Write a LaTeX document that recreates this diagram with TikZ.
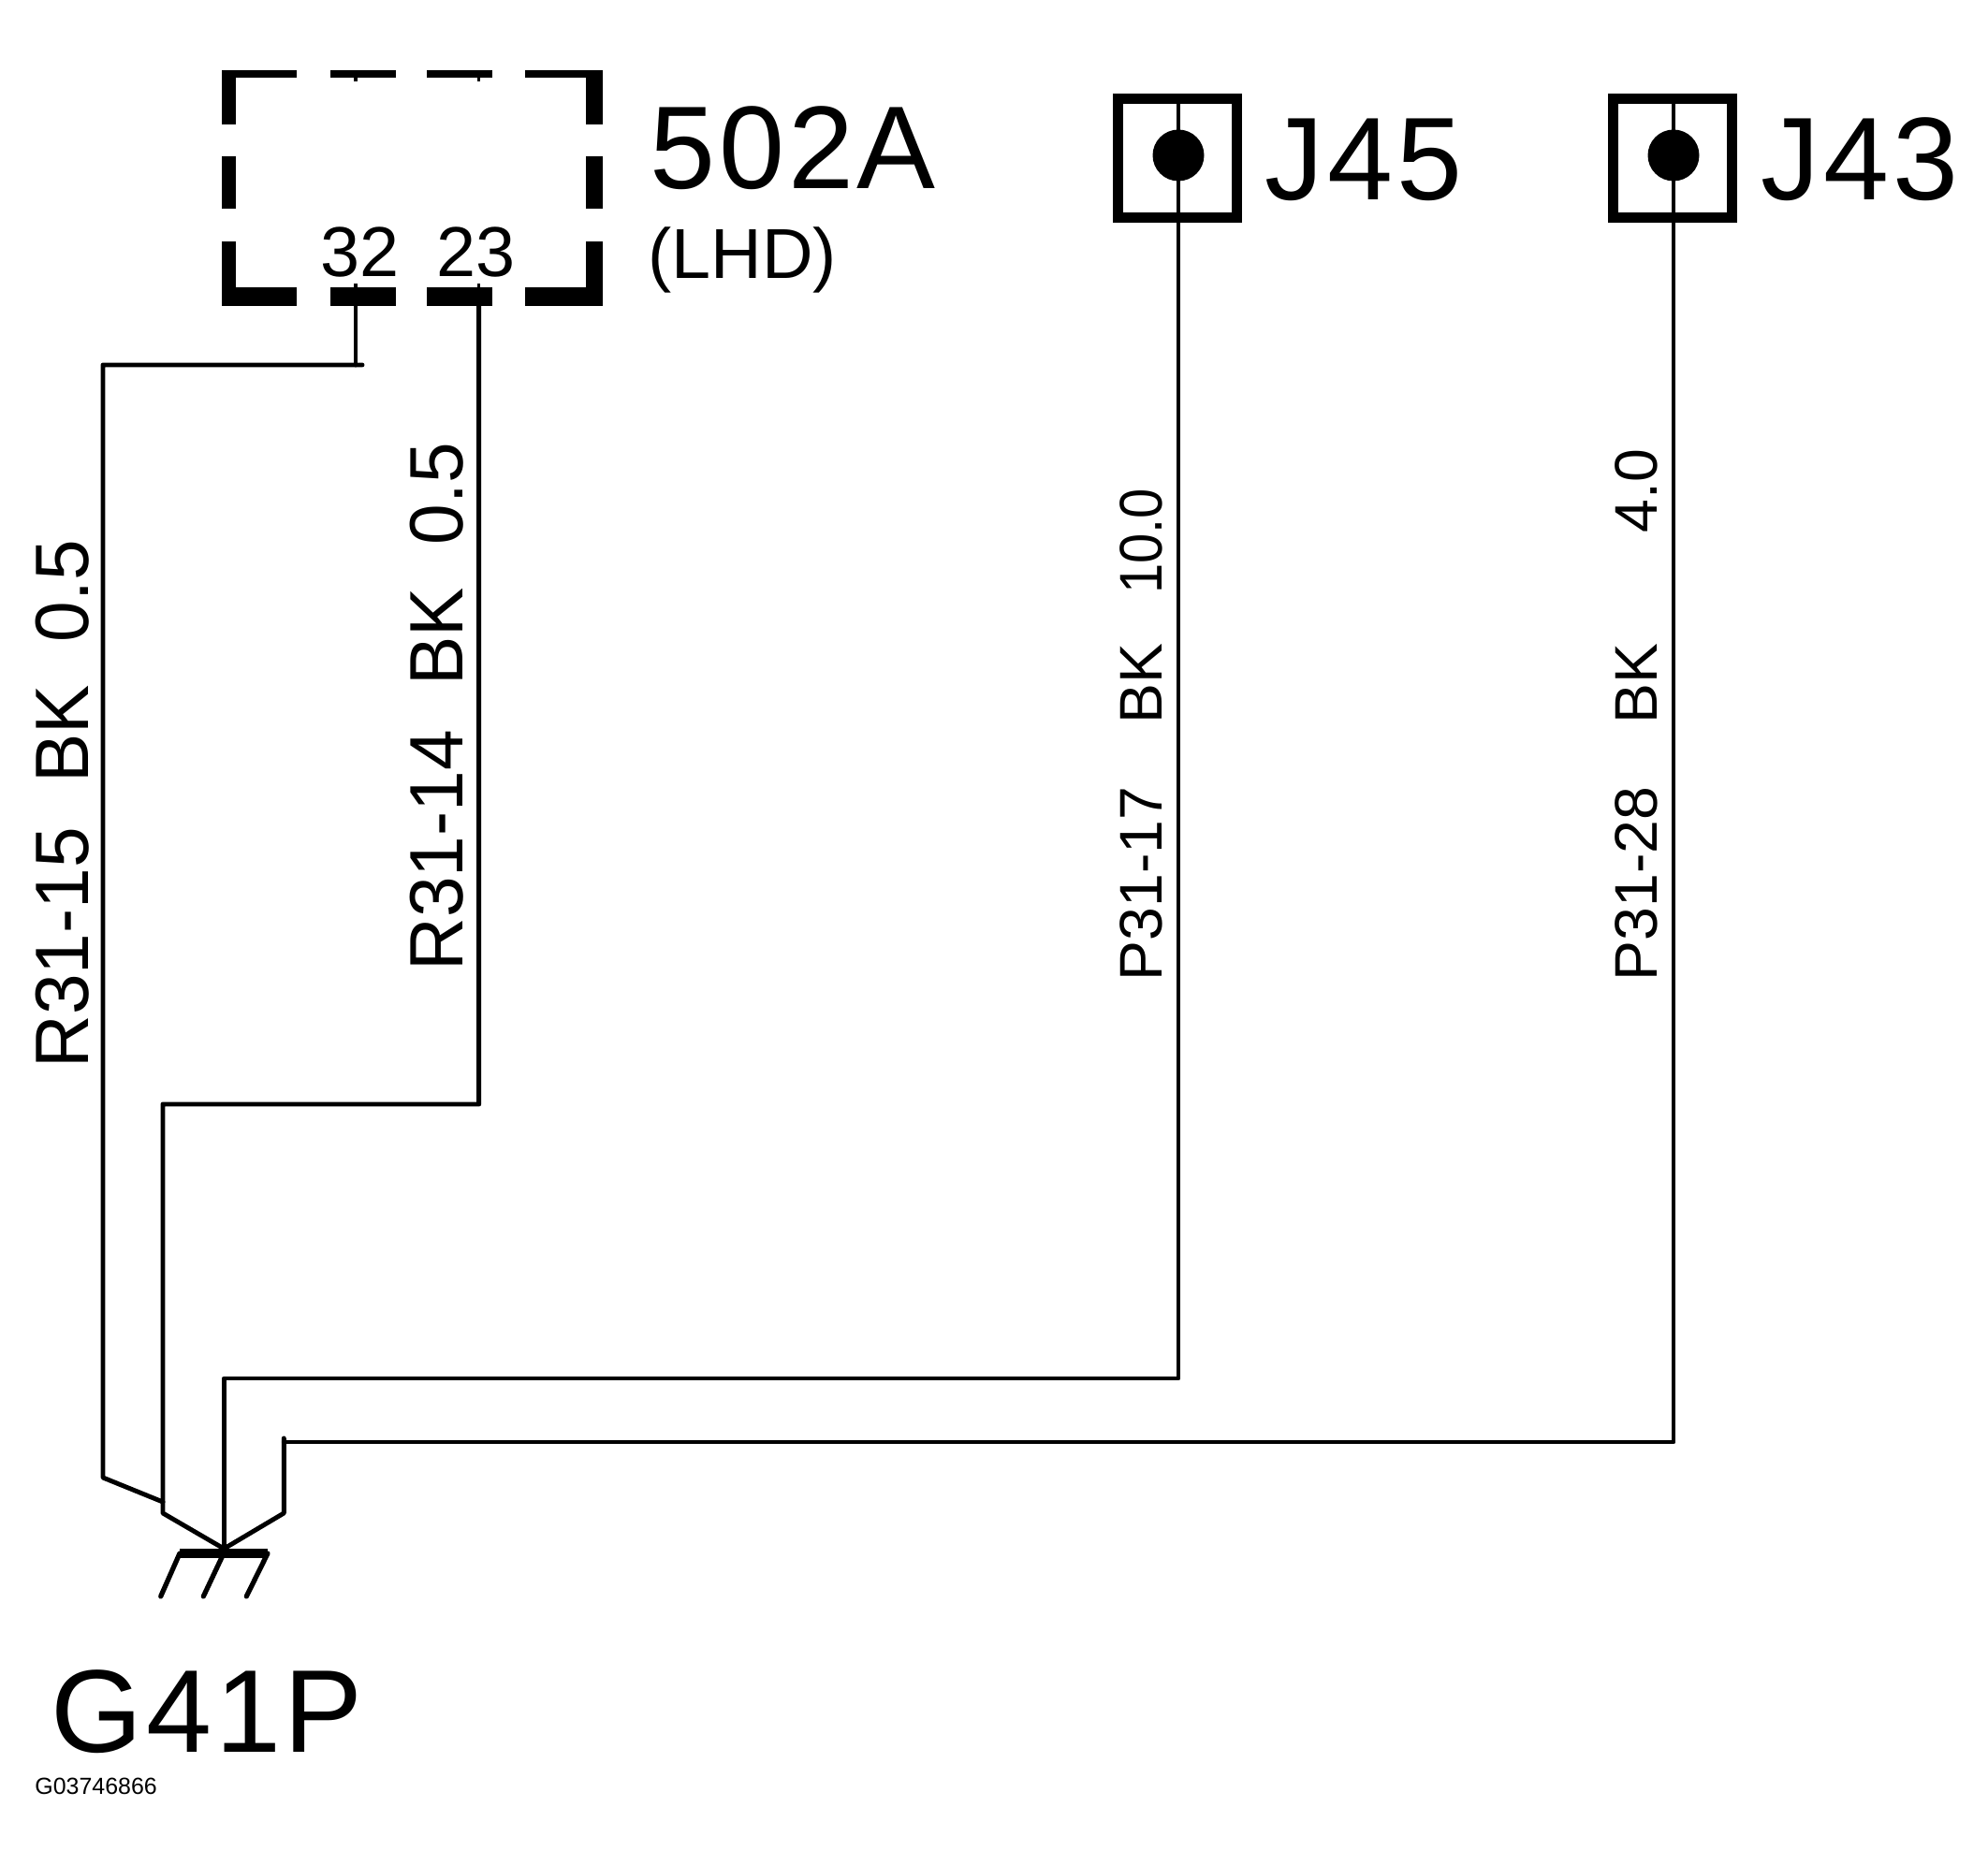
\documentclass[tikz,border=0pt]{standalone}
\usepackage{fontspec}
\setmainfont{Liberation Sans}
\newfontfamily\narrowfont[FakeStretch=.9]{Liberation Sans}
\newfontfamily\rlabelfont[FakeStretch=.97]{Liberation Sans}
\newfontfamily\widefont[LetterSpace=3]{Liberation Sans}
\tikzset{
	wire/.style={line width=1.4pt,line cap=round,line join=round},
	hash/.style={line width=1.5pt,line cap=round},
	jack/.style={draw,line width=3pt,minimum size=1.27cm,inner sep=0pt},
	jackdot/.style={circle,fill,minimum size=.55cm,inner sep=0pt},
	bigtext/.style={inner sep=0pt,anchor=base west,font=\widefont\fontsize{35.8}{40}\selectfont},
	pintext/.style={inner sep=0pt,anchor=base,font=\fontsize{21.5}{24}\selectfont},
	rlabel/.style={inner sep=0pt,rotate=90,anchor=base west,font=\rlabelfont\fontsize{23}{28}\selectfont},
	plabel/.style={inner sep=0pt,rotate=90,anchor=base west,font=\fontsize{18.3}{22}\selectfont}
}
\begin{document}
\begin{tikzpicture}[x=1cm,y=-1cm]
	\useasboundingbox (0,0) rectangle (21.24,19.93);
	% dashed outline of 502A
	\foreach \a/\b in {2.37/3.17,3.526/4.23,4.56/5.26,5.61/6.436}{
		\fill (\a,.75) rectangle (\b,.833);
		\fill (\a,3.067) rectangle (\b,3.273);
	}
	\foreach \a/\b in {.75/1.33,1.667/2.227,2.58/3.27}{
		\fill (2.37,\a) rectangle (2.523,\b);
		\fill (6.26,\a) rectangle (6.436,\b);
	}
	\node[pintext] (n32) at (3.85,2.96) {32};
	\node[pintext] (n23) at (5.085,2.96) {23};
	\node[bigtext] (n502) at (6.94,2.02) {502A};
	\node[inner sep=0pt,anchor=base west,font=\fontsize{21.5}{24}\selectfont] (lhd) at (6.92,2.98) {(LHD)};
	% jacks
	\node[jack] (j45) at (12.58,1.69) {};
	\node[jack] (j43) at (17.87,1.69) {};
	\node[jackdot] (j45dot) at (12.59,1.66) {};
	\node[jackdot] (j43dot) at (17.88,1.66) {};
	\node[bigtext] (t45) at (13.51,2.14) {J45};
	\node[bigtext] (t43) at (18.81,2.14) {J43};
	% wires
	\coordinate (pin32) at (3.80,3.27);
	\coordinate (pin23) at (5.117,3.27);
	\coordinate (a32) at (3.80,3.90);
	\coordinate (stub) at (3.87,3.90);
	\coordinate (b15) at (1.10,3.90);
	\coordinate (c15) at (1.10,15.79);
	\coordinate (a23) at (5.117,11.80);
	\coordinate (b14) at (1.74,11.80);
	\coordinate (c14) at (1.74,16.05);
	\coordinate (d14) at (1.74,16.17);
	\coordinate (gnd) at (2.393,16.55);
	\coordinate (a17) at (12.59,14.73);
	\coordinate (b17) at (2.393,14.73);
	\coordinate (a28) at (17.88,15.41);
	\coordinate (b28) at (3.033,15.41);
	\coordinate (c28) at (3.033,15.37);
	\coordinate (d28) at (3.033,16.17);
	\draw[wire] (pin32) -- (a32);
	\draw[wire] (stub) -- (b15) -- (c15) -- (c14);
	\draw[wire] (pin23) -- (a23) -- (b14) -- (d14) -- (gnd);
	\draw[wire,shorten <=2pt] (j45.north -| a17) -- (a17) -- (b17) -- (gnd);
	\draw[wire,shorten <=2pt] (j43.north -| a28) -- (a28) -- (b28);
	\draw[wire] (c28) -- (d28) -- (gnd);
	% small ticks on the pins
	\foreach \p in {3.80,5.117}{
		\draw[line width=1pt] (\p,.83) -- (\p,.87);
		\draw[line width=1pt] (\p,3.07) -- (\p,3.03);
	}
	% ground G41P
	\coordinate (bar1) at (1.92,16.60);
	\coordinate (bar2) at (2.39,16.60);
	\coordinate (bar3) at (2.86,16.60);
	\draw[line width=2.8pt] (bar1) -- (bar3);
	\foreach \p/\q in {bar1/1.717,bar2/2.173,bar3/2.633}{
		\coordinate (foot) at (\q,17.06);
		\draw[hash] (\p) -- (foot);
	}
	\node[bigtext] (g41) at (.54,18.72) {G41P};
	\node[inner sep=0pt,anchor=base west,font=\fontsize{7.1}{8}\selectfont] (gno) at (.367,19.17) {G03746866};
	% wire labels
	\node[rlabel] (r15) at (.94,11.42) {R31-15\hspace{13.6pt}BK\hspace{13pt}0.5};
	\node[rlabel] (r14) at (4.94,10.38) {R31-14\hspace{13.6pt}BK\hspace{13pt}0.5};
	\node[plabel] (p17) at (12.41,10.49) {P31-17\hspace{19.3pt}BK\hspace{15pt}{\narrowfont 10.0}};
	\node[plabel] (p28) at (17.70,10.49) {P31-28\hspace{19.3pt}BK\hspace{33.5pt}4.0};
\end{tikzpicture}
\end{document}
